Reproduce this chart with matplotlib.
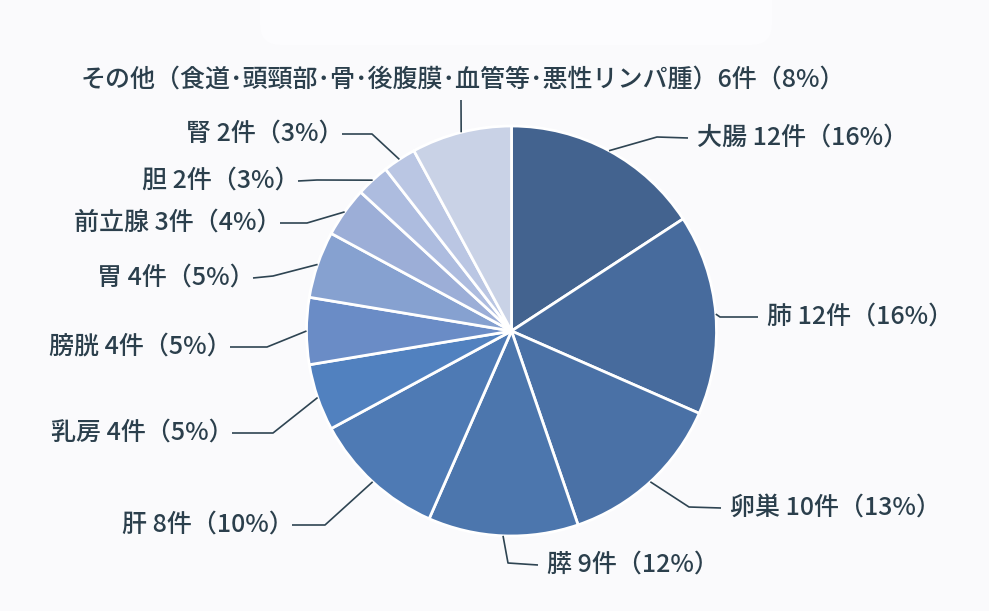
import numpy as np
import matplotlib.pyplot as plt
from matplotlib.patches import FancyBboxPatch

plt.rcParams['font.family'] = ['Noto Sans CJK JP', 'DejaVu Sans']

W, H = 989, 611

organs = ["大腸", "肺", "卵巣", "膵", "肝", "乳房", "膀胱", "胃", "前立腺", "胆", "腎",
          "その他（食道･頭頸部･骨･後腹膜･血管等･悪性リンパ腫）"]
counts = [12, 12, 10, 9, 8, 4, 4, 4, 3, 2, 2, 6]
percents = [16, 16, 13, 12, 10, 5, 5, 5, 4, 3, 3, 8]
colors = ["#43638f", "#476b9d", "#4a71a6", "#4c76ad", "#4e7ab4", "#5181bf",
          "#6a8cc6", "#86a1d0", "#9caed7", "#adbcdf", "#bac6e3", "#c9d2e6"]

# label layout (pixel positions, y measured from top)
sides = ["r", "r", "r", "r", "l", "l", "l", "l", "l", "l", "l", "t"]
elbows = [(657, 137), (720, 317), (689, 507), (508, 563), (325, 525), (273, 433),
          (267, 347), (273, 276), (307, 223), (317, 180), (372, 134), (461, 100)]
anchors = [(697, 138), (767, 317), (730, 508), (547, 565), (283, 525), (223, 433),
           (221, 347), (244, 278), (271, 223), (289, 181), (333, 134), (457, 80)]

cx, cy, r = 511.5, H - 331, 205
text_color = "#2b3f4c"
line_color = "#2e4452"

fig = plt.figure(figsize=(W / 100, H / 100), dpi=100)
fig.patch.set_facecolor("#fafafc")
ax = fig.add_axes([0, 0, 1, 1])

# faint title box at top
ax.add_patch(FancyBboxPatch((260, H - 45), 512, 65, boxstyle="round,pad=0,rounding_size=20",
                            facecolor="#fcfcfe", edgecolor="none"))

wedges, _ = ax.pie(counts, colors=colors, startangle=90, counterclock=False,
                   center=(cx, cy), radius=r,
                   wedgeprops=dict(edgecolor="white", linewidth=2))

for w, name, n, p, side, (ex, ey), (tx, ty) in zip(
        wedges, organs, counts, percents, sides, elbows, anchors):
    mid = np.deg2rad((w.theta1 + w.theta2) / 2)
    sx, sy = cx + r * np.cos(mid), cy + r * np.sin(mid)
    sep = "" if name.endswith("）") else " "
    label = f"{name}{sep}{n}件（{p}%）"
    style = dict(va="center", fontsize=18, color=text_color, fontweight="medium")
    if side == "t":
        xs, ys = [sx, ex], [sy, H - ey]
        ax.text(tx + 6, H - ty, label, ha="center", **style)
    elif side == "r":
        xs, ys = [sx, ex, tx - 9], [sy, H - ey, H - ty]
        ax.text(tx, H - ty, label, ha="left", **style)
    else:
        xs, ys = [sx, ex, tx + 9], [sy, H - ey, H - ty]
        # full-width closing paren carries its own right margin
        ax.text(tx + 11, H - ty, label, ha="right", **style)
    ax.plot(xs, ys, color=line_color, linewidth=1.2, solid_capstyle="butt")

ax.set_xlim(0, W)
ax.set_ylim(0, H)
ax.set_aspect("equal")
ax.axis("off")

fig.savefig("out.png", dpi=100, facecolor=fig.get_facecolor())
